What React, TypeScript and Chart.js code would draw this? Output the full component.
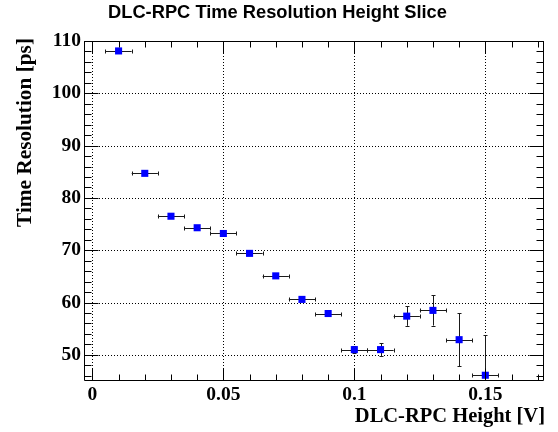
import React, { useEffect, useRef } from "react";
import { Chart, registerables } from "chart.js";

Chart.register(...registerables);

// ---- data ----
const heights = [0.01, 0.02, 0.03, 0.04, 0.05, 0.06, 0.07, 0.08, 0.09, 0.1, 0.11, 0.12, 0.13, 0.14, 0.15];
const resolution = [108.1, 84.7, 76.5, 74.3, 73.2, 69.4, 65.1, 60.6, 57.9, 51.0, 51.0, 57.4, 58.5, 52.9, 46.1];
const heightErr = [0.005, 0.005, 0.005, 0.005, 0.005, 0.005, 0.005, 0.005, 0.005, 0.005, 0.005, 0.005, 0.005, 0.005, 0.005];
const resolutionErr = [0.3, 0.3, 0.3, 0.3, 0.3, 0.3, 0.3, 0.4, 0.4, 0.6, 1.2, 1.85, 2.9, 5.1, 7.6];

const xTickValues = [0, 0.05, 0.1, 0.15];
const yTickValues = [50, 60, 70, 80, 90, 100, 110];
const xMinorStep = 0.01;
const yMinorStep = 2;

const X_MIN = -0.0032;
const X_MAX = 0.1724;
const Y_MIN = 45;
const Y_MAX = 110;

const chartTitle = "DLC-RPC Time Resolution Height Slice";
const xTitle = "DLC-RPC Height [V]";
const yTitle = "Time Resolution [ps]";

const SERIF = "'Liberation Serif', 'DejaVu Serif', serif";
const SANS = "'Liberation Sans', Arial, sans-serif";

function fmt(v: number): string {
  return String(Math.round(v * 1000) / 1000);
}

const rootStyle = {
  id: "rootStyle",
  beforeDatasetsDraw(chart: any) {
    const { ctx, chartArea: a, scales } = chart;
    const x = scales.x;
    const y = scales.y;
    ctx.save();
    // dotted grid
    ctx.strokeStyle = "#000";
    ctx.lineWidth = 1;
    ctx.setLineDash([1, 2]);
    for (const v of xTickValues) {
      const px = Math.round(x.getPixelForValue(v)) + 0.5;
      ctx.beginPath();
      ctx.moveTo(px, a.top);
      ctx.lineTo(px, a.bottom);
      ctx.stroke();
    }
    for (const v of yTickValues) {
      const py = Math.round(y.getPixelForValue(v)) + 0.5;
      ctx.beginPath();
      ctx.moveTo(a.left, py);
      ctx.lineTo(a.right, py);
      ctx.stroke();
    }
    ctx.setLineDash([]);
    // error bars
    ctx.beginPath();
    ctx.rect(a.left, a.top, a.right - a.left, a.bottom - a.top);
    ctx.clip();
    ctx.strokeStyle = "#1a1a1a";
    ctx.lineWidth = 1;
    const cap = 2;
    for (let i = 0; i < heights.length; i++) {
      const cx = x.getPixelForValue(heights[i]);
      const cy = y.getPixelForValue(resolution[i]);
      const x0 = x.getPixelForValue(heights[i] - heightErr[i]);
      const x1 = x.getPixelForValue(heights[i] + heightErr[i]);
      const y0 = y.getPixelForValue(resolution[i] - resolutionErr[i]);
      const y1 = y.getPixelForValue(resolution[i] + resolutionErr[i]);
      const ry = Math.round(cy) + 0.5;
      const rx = Math.round(cx) + 0.5;
      ctx.beginPath();
      ctx.moveTo(x0, ry);
      ctx.lineTo(x1, ry);
      ctx.moveTo(Math.round(x0) + 0.5, ry - cap);
      ctx.lineTo(Math.round(x0) + 0.5, ry + cap);
      ctx.moveTo(Math.round(x1) + 0.5, ry - cap);
      ctx.lineTo(Math.round(x1) + 0.5, ry + cap);
      ctx.moveTo(rx, y0);
      ctx.lineTo(rx, y1);
      ctx.moveTo(rx - cap, Math.round(y0) + 0.5);
      ctx.lineTo(rx + cap, Math.round(y0) + 0.5);
      ctx.moveTo(rx - cap, Math.round(y1) + 0.5);
      ctx.lineTo(rx + cap, Math.round(y1) + 0.5);
      ctx.stroke();
    }
    ctx.restore();
  },
  afterDatasetsDraw(chart: any) {
    const { ctx, chartArea: a, scales } = chart;
    const x = scales.x;
    const y = scales.y;
    ctx.save();
    ctx.strokeStyle = "#000";
    ctx.lineWidth = 1;
    const L = a.left + 0.5;
    const R = a.right - 0.5;
    const T = a.top + 0.5;
    const B = a.bottom - 0.5;
    ctx.beginPath();
    ctx.moveTo(L, T);
    ctx.lineTo(R, T);
    ctx.lineTo(R, B);
    ctx.lineTo(L, B);
    ctx.closePath();
    ctx.stroke();
    const xMajorLen = 12;
    const xMinorLen = 6;
    const yMajorLen = 14;
    const yMinorLen = 7;
    ctx.beginPath();
    const nx0 = Math.ceil(X_MIN / xMinorStep - 1e-9);
    const nx1 = Math.floor(X_MAX / xMinorStep + 1e-9);
    for (let n = nx0; n <= nx1; n++) {
      const v = n * xMinorStep;
      const isMajor = xTickValues.some((t) => Math.abs(t - v) < 1e-9);
      const len = isMajor ? xMajorLen : xMinorLen;
      const px = Math.round(x.getPixelForValue(v)) + 0.5;
      ctx.moveTo(px, B);
      ctx.lineTo(px, B - len);
      ctx.moveTo(px, T);
      ctx.lineTo(px, T + len);
    }
    const ny0 = Math.ceil(Y_MIN / yMinorStep - 1e-9);
    const ny1 = Math.floor(Y_MAX / yMinorStep + 1e-9);
    for (let n = ny0; n <= ny1; n++) {
      const v = n * yMinorStep;
      const isMajor = yTickValues.some((t) => Math.abs(t - v) < 1e-9);
      const len = isMajor ? yMajorLen : yMinorLen;
      const py = Math.round(y.getPixelForValue(v)) + 0.5;
      ctx.moveTo(L, py);
      ctx.lineTo(L + len, py);
      ctx.moveTo(R, py);
      ctx.lineTo(R - len, py);
    }
    ctx.stroke();
    ctx.restore();
  },
  afterDraw(chart: any) {
    const { ctx } = chart;
    ctx.save();
    ctx.fillStyle = "#000";
    ctx.textBaseline = "alphabetic";
    ctx.font = `bold 18.3px ${SANS}`;
    ctx.textAlign = "center";
    ctx.fillText(chartTitle, 277.5, 18);
    ctx.font = `bold 20.5px ${SERIF}`;
    ctx.textAlign = "right";
    ctx.fillText(xTitle, 545, 421.5);
    ctx.font = `bold 21.3px ${SERIF}`;
    ctx.translate(30.5, 38);
    ctx.rotate(-Math.PI / 2);
    ctx.textAlign = "right";
    ctx.fillText(yTitle, 0, 0);
    ctx.restore();
  },
};

export default function App() {
  const ref = useRef<HTMLCanvasElement | null>(null);

  useEffect(() => {
    document.body.style.margin = "0";
    const canvas = ref.current;
    if (!canvas) return;
    const chart = new Chart(canvas, {
      type: "scatter",
      data: {
        datasets: [
          {
            data: heights.map((h, i) => ({ x: h, y: resolution[i] })),
            backgroundColor: "#0000ff",
            borderColor: "#0000ff",
            borderWidth: 0,
            pointStyle: "rect",
            pointRadius: 5,
            pointHoverRadius: 5,
          },
        ],
      },
      options: {
        responsive: false,
        animation: false,
        devicePixelRatio: 1,
        layout: { padding: { left: 0, right: 14, top: 41, bottom: 0 } },
        plugins: {
          legend: { display: false },
          title: { display: false },
          tooltip: { enabled: false },
        },
        events: [],
        scales: {
          x: {
            type: "linear",
            min: X_MIN,
            max: X_MAX,
            grid: { display: false, drawTicks: false },
            border: { display: false },
            afterBuildTicks: (scale: any) => {
              scale.ticks = xTickValues.map((v) => ({ value: v }));
            },
            afterFit: (scale: any) => {
              scale.height = 51;
            },
            ticks: {
              autoSkip: false,
              maxRotation: 0,
              padding: 2,
              color: "#000",
              font: { family: SERIF, weight: "bold", size: 19.5 },
              callback: (v: any) => fmt(Number(v)),
            },
          },
          y: {
            type: "linear",
            min: Y_MIN,
            max: Y_MAX,
            grid: { display: false, drawTicks: false },
            border: { display: false },
            afterBuildTicks: (scale: any) => {
              scale.ticks = yTickValues.map((v) => ({ value: v }));
            },
            afterFit: (scale: any) => {
              scale.width = 84;
            },
            ticks: {
              autoSkip: false,
              padding: 3,
              color: "#000",
              font: { family: SERIF, weight: "bold", size: 19.5 },
              callback: (v: any) => fmt(Number(v)),
            },
          },
        },
      },
      plugins: [rootStyle],
    } as any);
    return () => chart.destroy();
  }, []);

  return (
    <canvas
      ref={ref}
      width={558}
      height={432}
      style={{ display: "block", width: 558, height: 432 }}
    />
  );
}
